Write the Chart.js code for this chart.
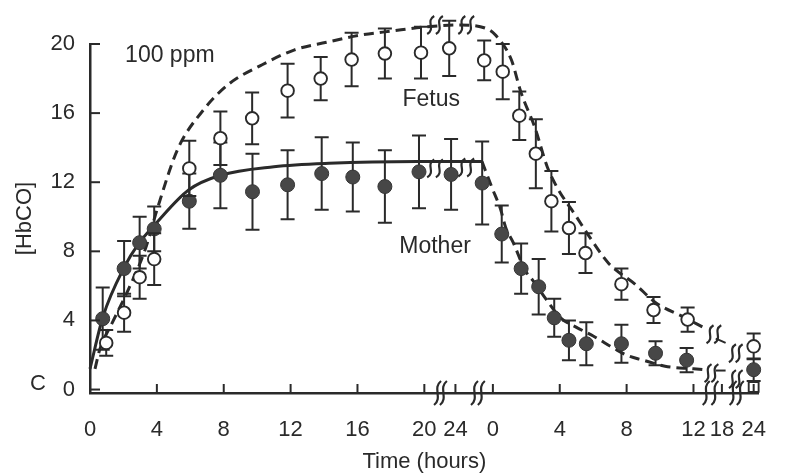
<!DOCTYPE html>
<html><head><meta charset="utf-8">
<script src="https://cdn.jsdelivr.net/npm/chart.js@4/dist/chart.umd.min.js"></script>
<style>html,body{margin:0;padding:0;background:#fff}</style>
</head><body>
<canvas id="c" width="790" height="475"></canvas>
<script>
// ---------- tick labels ----------
const yTicks = [0, 4, 8, 12, 16, 20];
const xTickLabels = ['0','4','8','12','16','20','24','0','4','8','12','18','24'];
const xTickPhase  = ['E','E','E','E','E','E','E','R','R','R','R','R','R'];
const xTickHours  = [0, 4, 8, 12, 16, 20, 24, 0, 4, 8, 12, 18, 24];

// ---------- measured points (E = exposure hours, R = recovery hours) ----------
const motherExpT   = [0.76, 2.04, 2.97, 3.84, 5.94, 7.8, 9.72, 11.82, 13.86, 15.72, 17.64, 19.68, 23.44];
const motherExpV   = [4.1, 7.0, 8.5, 9.3, 10.9, 12.4, 11.45, 11.85, 12.5, 12.3, 11.75, 12.6, 12.45];
const motherExpErr = [1.8, 1.6, 1.5, 1.3, 1.6, 1.9, 2.2, 2.0, 2.1, 2.0, 2.1, 2.1, 2.05];
const motherRecT   = [-0.64, 0.53, 1.69, 2.74, 3.67, 4.55, 5.59, 7.69, 9.73, 11.59, 24];
const motherRecV   = [11.95, 9.0, 7.0, 5.95, 4.15, 2.85, 2.65, 2.65, 2.1, 1.7, 1.15];
const motherRecErr = [2.4, 1.65, 1.45, 1.6, 1.1, 1.15, 1.25, 1.1, 0.7, 0.7, 0.65];

const fetusExpT   = [0.97, 2.04, 2.97, 3.84, 5.94, 7.8, 9.7, 11.82, 13.8, 15.65, 17.64, 19.8, 23.2];
const fetusExpV   = [2.7, 4.45, 6.5, 7.55, 12.8, 14.55, 15.7, 17.3, 18.0, 19.1, 19.45, 19.5, 19.75];
const fetusExpErr = [0.75, 1.1, 1.25, 1.5, 1.6, 1.55, 1.5, 1.55, 1.25, 1.55, 1.45, 1.5, 1.6];
const fetusRecT   = [-0.52, 0.59, 1.58, 2.57, 3.5, 4.55, 5.54, 7.69, 9.61, 11.65, 24];
const fetusRecV   = [19.05, 18.4, 15.85, 13.65, 10.9, 9.35, 7.9, 6.1, 4.6, 4.05, 2.5];
const fetusRecErr = [1.15, 1.6, 1.4, 2.0, 1.75, 1.5, 1.15, 0.9, 0.75, 0.7, 0.75];

const controlR = [24];
const controlV = [0.15];

// ---------- fitted curves ----------
const motherFitExpT = [0, 0.77, 2.03, 2.95, 3.84, 5.9, 7.8, 11, 14.3, 19.6, 24];
const motherFitExpV = [1.2, 4.2, 7.05, 8.5, 9.5, 11.55, 12.4, 12.9, 13.1, 13.2, 13.2];
const motherFitRecT = [-0.65, -0.06, 0.47, 0.76, 1.22, 1.93, 2.4, 3.2, 4.05, 5.0, 6.0, 7.3, 8.1, 9.0, 10.3, 12.0, 14.0];
const motherFitRecV = [13.2, 11.7, 10.4, 9.4, 8.5, 6.9, 6.3, 5.2, 4.15, 3.6, 3.1, 2.35, 1.95, 1.7, 1.35, 1.2, 1.15];
const fetusFitExpT = [0.3, 0.58, 1.35, 2.3, 3.3, 4.07, 5.24, 6.8, 8.33, 10.3, 12.2, 14.15, 16.1, 18.05, 20.4];
const fetusFitExpV = [1.2, 2.3, 3.9, 5.8, 8.1, 10.6, 13.9, 16.2, 17.7, 18.8, 19.65, 20.1, 20.5, 20.75, 21.0];
const fetusFitRecT = [-1.98, -0.4, 0.17, 1.1, 1.68, 2.5, 3.25, 3.84, 5.0, 5.77, 6.93, 8.5, 9.78, 11.4, 14.05];
const fetusFitRecV = [21.1, 20.9, 20.5, 19.1, 17.2, 15.2, 12.9, 11.7, 10.0, 8.85, 7.3, 6.1, 5.0, 4.2, 3.6];
const fetusTailR  = [16.7, 18.7];
const fetusTailV  = [2.95, 2.7];
const motherTailR = [16.7, 18.7];
const motherTailV = [1.1, 1.1];

// ---------- broken time axis ----------
function E(t){ return t <= 20 ? t : 20 + (t - 20) * 0.465; }
function R(r){ return r <= 12 ? 24.1 + r : (r <= 18 ? 36.1 + (r - 12) * 0.2833 : 37.8 + (r - 18) * 0.3167); }
const xTickPos = xTickHours.map((h, i) => xTickPhase[i] === 'E' ? E(h) : R(h));

// break symbols (axis units / values)
const axisBreakX = [20.79, 21.14, 23.0, 23.41, 36.86, 37.38, 38.47, 38.9];
const curveBreakX = [20.38, 20.9, 22.24, 22.77, 20.38, 20.9, 22.24, 22.77, 37.09, 37.55, 36.97, 37.38, 38.43, 38.83, 38.43, 38.83];
const curveBreakY = [21.1, 21.1, 21.1, 21.1, 12.8, 12.8, 12.85, 12.85, 3.2, 3.2, 0.95, 0.95, 2.1, 2.1, 0.6, 0.6];

const pts = (ts, vs, f) => ts.map((t, i) => ({x: f(t), y: vs[i]}));
const INK = '#2a2a2a';

const motherPts = pts(motherExpT, motherExpV, E).concat(pts(motherRecT, motherRecV, R));
const motherErr = motherExpErr.concat(motherRecErr);
const fetusPts = pts(fetusExpT, fetusExpV, E).concat(pts(fetusRecT, fetusRecV, R));
const fetusErr = fetusExpErr.concat(fetusRecErr);

const lineBase = {type:'line', pointRadius:0, borderColor:INK, borderWidth:3, cubicInterpolationMode:'monotone', clip:false, order:2, fill:false};

function squiggle(ctx, x, y, h){
  ctx.beginPath();
  ctx.moveTo(x + 3.5, y - h/2);
  ctx.bezierCurveTo(x - 5.5, y - h/2 + h*0.3, x + 5.5, y + h/2 - h*0.3, x - 3.5, y + h/2);
  ctx.stroke();
}

const deco = {
  id: 'deco',
  beforeDatasetDraw(chart, args){
    const ds = chart.data.datasets[args.index];
    if (!ds.errors) return;
    const ctx = chart.ctx, xs = chart.scales.x, ys = chart.scales.y;
    ctx.save();
    ctx.strokeStyle = INK; ctx.lineWidth = 2;
    ds.data.forEach((p, i) => {
      const e = ds.errors[i];
      const px = xs.getPixelForValue(p.x);
      const y1 = ys.getPixelForValue(p.y + e), y2 = ys.getPixelForValue(p.y - e);
      ctx.beginPath();
      ctx.moveTo(px, y1); ctx.lineTo(px, y2);
      ctx.moveTo(px - 7, y1); ctx.lineTo(px + 7, y1);
      ctx.moveTo(px - 7, y2); ctx.lineTo(px + 7, y2);
      ctx.stroke();
    });
    ctx.restore();
  },
  afterDraw(chart){
    const ctx = chart.ctx, xs = chart.scales.x, ys = chart.scales.y, a = chart.chartArea;
    ctx.save();
    ctx.strokeStyle = INK; ctx.lineWidth = 2;
    // inward tick marks
    xTickPos.forEach(v => {
      const px = xs.getPixelForValue(v);
      ctx.beginPath(); ctx.moveTo(px, a.bottom); ctx.lineTo(px, a.bottom - 9); ctx.stroke();
    });
    yTicks.forEach(v => {
      const py = ys.getPixelForValue(v);
      ctx.beginPath(); ctx.moveTo(a.left, py); ctx.lineTo(a.left + 10, py); ctx.stroke();
    });
    // break symbols
    ctx.lineWidth = 2.2;
    axisBreakX.forEach(v => squiggle(ctx, xs.getPixelForValue(v), a.bottom, 24));
    curveBreakX.forEach((v, i) => squiggle(ctx, xs.getPixelForValue(v), ys.getPixelForValue(curveBreakY[i]), 18));
    // annotations
    ctx.fillStyle = INK;
    ctx.textBaseline = 'middle'; ctx.textAlign = 'left';
    ctx.font = '23px "Liberation Sans", Arial, sans-serif';
    ctx.fillText('100 ppm', xs.getPixelForValue(2.1), ys.getPixelForValue(19.35));
    ctx.fillText('Fetus', xs.getPixelForValue(18.69), ys.getPixelForValue(16.75));
    ctx.fillText('Mother', xs.getPixelForValue(18.5), ys.getPixelForValue(8.25));
    ctx.font = '22px "Liberation Sans", Arial, sans-serif';
    ctx.textAlign = 'center';
    ctx.fillText('C', a.left - 52, ys.getPixelForValue(0.3));
    ctx.restore();
  }
};

new Chart(document.getElementById('c'), {
  data: {
    datasets: [
      Object.assign({}, lineBase, {label:'Mother fit (exposure)',
        data: pts(motherFitExpT, motherFitExpV, E).concat([{x: R(motherFitRecT[0]), y: motherFitRecV[0]}])}),
      Object.assign({}, lineBase, {label:'Mother fit (recovery)', borderDash:[10,6],
        data: pts(motherFitRecT, motherFitRecV, R)}),
      Object.assign({}, lineBase, {label:'Fetus fit', borderDash:[10,6],
        data: pts(fetusFitExpT, fetusFitExpV, E).concat(pts(fetusFitRecT, fetusFitRecV, R))}),
      Object.assign({}, lineBase, {label:'Fetus tail', borderWidth:2, data: pts(fetusTailR, fetusTailV, R)}),
      Object.assign({}, lineBase, {label:'Mother tail', borderWidth:2, data: pts(motherTailR, motherTailV, R)}),
      {type:'line', label:'Mother', showLine:false, data: motherPts, errors: motherErr,
        pointRadius:7, pointBackgroundColor:'#474747', pointBorderColor:'#353535', pointBorderWidth:1, clip:false, order:1},
      {type:'line', label:'Fetus', showLine:false, data: fetusPts, errors: fetusErr,
        pointRadius:6.3, pointBackgroundColor:'#ffffff', pointBorderColor:INK, pointBorderWidth:1.9, clip:false, order:0},
      {type:'line', label:'Control', showLine:false, data: pts(controlR, controlV, R),
        pointStyle:'rect', pointRadius:7, pointBackgroundColor:'#ffffff', pointBorderColor:INK, pointBorderWidth:1.9, clip:false, order:0}
    ]
  },
  options: {
    responsive:false, animation:false, devicePixelRatio:1,
    layout:{padding:{top:44, right:13, left:0, bottom:0}},
    plugins:{legend:{display:false}, tooltip:{enabled:false}},
    scales:{
      x:{type:'linear', min:0, max:40,
        afterBuildTicks: s => { s.ticks = xTickPos.map(v => ({value:v})); },
        afterFit: s => { s.height = 82; },
        ticks:{autoSkip:false, maxRotation:0, padding:24, color:INK,
          font:{family:'"Liberation Sans", Arial, sans-serif', size:22},
          callback:(v, i) => xTickLabels[i]},
        grid:{display:false, drawTicks:false},
        border:{display:true, color:INK, width:2.5},
        title:{display:true, text:'Time (hours)', color:INK, padding:{top:0, bottom:0},
          font:{family:'"Liberation Sans", Arial, sans-serif', size:22}}
      },
      y:{type:'linear', min:-0.2, max:20,
        afterBuildTicks: s => { s.ticks = yTicks.map(v => ({value:v})); },
        afterFit: s => { s.width = 90; },
        ticks:{padding:15, color:INK, font:{family:'"Liberation Sans", Arial, sans-serif', size:22}},
        grid:{display:false, drawTicks:false},
        border:{display:true, color:INK, width:2.5},
        title:{display:true, text:'[HbCO]', color:INK, padding:{top:12, bottom:0},
          font:{family:'"Liberation Sans", Arial, sans-serif', size:22}}
      }
    }
  },
  plugins:[deco]
});
</script>
</body></html>
